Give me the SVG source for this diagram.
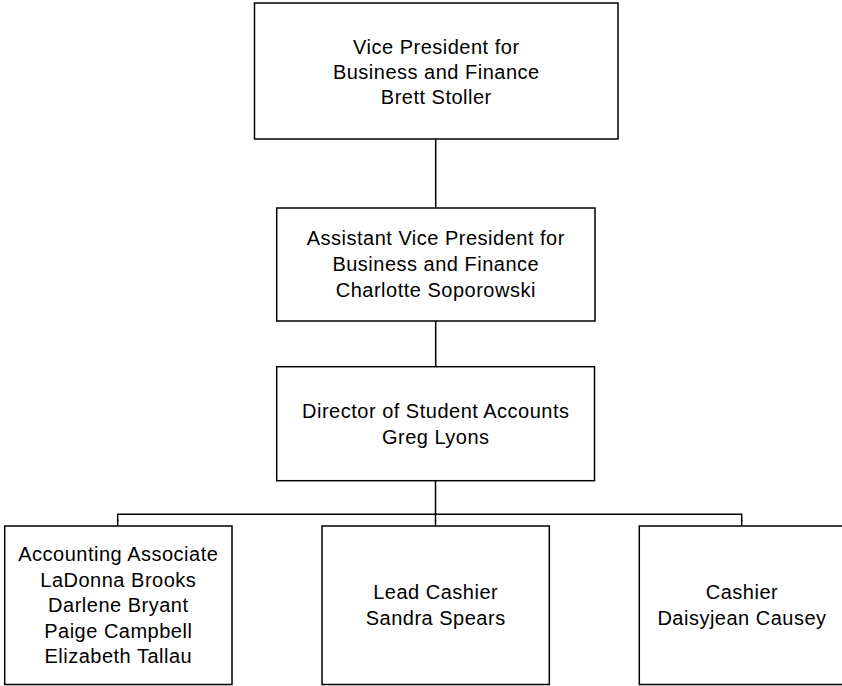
<svg xmlns="http://www.w3.org/2000/svg" width="842" height="686" viewBox="0 0 842 686">
<style>
.box{fill:#fff;stroke:#000;stroke-width:1.5}
.con{fill:none;stroke:#000;stroke-width:1.5}
text{font-family:"Liberation Sans",Arial,sans-serif;font-size:20px;fill:#000;text-anchor:middle;letter-spacing:0.5px}
</style>
<rect width="842" height="686" fill="#fff"/>
<g id="connectors">
<path class="con" d="M435.7 139V208M435.7 321V366.7M435.5 480.7V526M117.7 526V514.3H741.7V526"/>
</g>
<g id="vp">
<rect class="box" x="254.5" y="3" width="363.5" height="136"/>
<text x="436.3" y="54">Vice President for</text>
<text x="436.3" y="79">Business and Finance</text>
<text x="436.3" y="104">Brett Stoller</text>
</g>
<g id="avp">
<rect class="box" x="276.7" y="208" width="318.3" height="113"/>
<text x="435.8" y="245">Assistant Vice President for</text>
<text x="435.8" y="271">Business and Finance</text>
<text x="435.8" y="297">Charlotte Soporowski</text>
</g>
<g id="director">
<rect class="box" x="276.7" y="366.7" width="317.8" height="114"/>
<text x="435.8" y="418.3">Director of Student Accounts</text>
<text x="435.8" y="444">Greg Lyons</text>
</g>
<g id="accounting">
<rect class="box" x="4.7" y="526" width="227.3" height="158.5"/>
<text x="118.3" y="561">Accounting Associate</text>
<text x="118.3" y="586.5">LaDonna Brooks</text>
<text x="118.3" y="612">Darlene Bryant</text>
<text x="118.3" y="637.5">Paige Campbell</text>
<text x="118.3" y="663">Elizabeth Tallau</text>
</g>
<g id="leadcashier">
<rect class="box" x="322" y="526" width="227.3" height="158.5"/>
<text x="435.7" y="599">Lead Cashier</text>
<text x="435.7" y="625">Sandra Spears</text>
</g>
<g id="cashier">
<rect class="box" x="639.3" y="526" width="205" height="158.5"/>
<text x="742" y="599">Cashier</text>
<text x="742" y="625">Daisyjean Causey</text>
</g>
</svg>
